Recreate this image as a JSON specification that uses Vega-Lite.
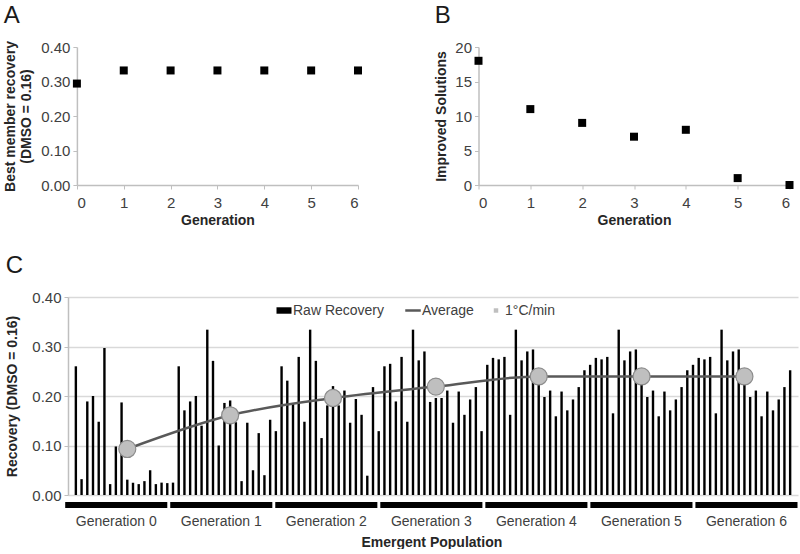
{
  "$schema": "https://vega.github.io/schema/vega-lite/v6.json",
  "background": "white",
  "padding": {"left": 3, "top": 4, "right": 1, "bottom": 0},
  "config": {
    "font": "Liberation Sans",
    "view": {"stroke": null},
    "axis": {
      "labelFont": "Liberation Sans",
      "labelFontSize": 15,
      "labelColor": "#404040",
      "titleFont": "Liberation Sans",
      "titleFontSize": 14,
      "titleFontWeight": "bold",
      "titleColor": "#262626",
      "domainColor": "#bfbfbf",
      "domainWidth": 1.5,
      "tickColor": "#bfbfbf",
      "tickSize": 4,
      "gridColor": "#d9d9d9",
      "gridWidth": 1.3
    },
    "title": {"fontSize": 24, "fontWeight": "normal", "anchor": "start", "frame": "bounds", "color": "#1a1a1a", "font": "Liberation Sans", "offset": 12}
  },
  "datasets": {
    "bestRecovery": [
      {"generation": 0, "recovery": 0.294},
      {"generation": 1, "recovery": 0.332},
      {"generation": 2, "recovery": 0.332},
      {"generation": 3, "recovery": 0.332},
      {"generation": 4, "recovery": 0.332},
      {"generation": 5, "recovery": 0.332},
      {"generation": 6, "recovery": 0.332}
    ],
    "improved": [
      {"generation": 0, "solutions": 18},
      {"generation": 1, "solutions": 11},
      {"generation": 2, "solutions": 9},
      {"generation": 3, "solutions": 7},
      {"generation": 4, "solutions": 8},
      {"generation": 5, "solutions": 1},
      {"generation": 6, "solutions": 0}
    ],
    "raw": [
      {"idx": 1, "recovery": 0.26}, {"idx": 2, "recovery": 0.032}, {"idx": 3, "recovery": 0.189}, {"idx": 4, "recovery": 0.2}, {"idx": 5, "recovery": 0.148}, {"idx": 6, "recovery": 0.297}, {"idx": 7, "recovery": 0.022}, {"idx": 8, "recovery": 0.098}, {"idx": 9, "recovery": 0.187}, {"idx": 10, "recovery": 0.031}, {"idx": 11, "recovery": 0.025}, {"idx": 12, "recovery": 0.022}, {"idx": 13, "recovery": 0.028}, {"idx": 14, "recovery": 0.05}, {"idx": 15, "recovery": 0.022}, {"idx": 16, "recovery": 0.025}, {"idx": 17, "recovery": 0.024}, {"idx": 18, "recovery": 0.025},
      {"idx": 19, "recovery": 0.26}, {"idx": 20, "recovery": 0.171}, {"idx": 21, "recovery": 0.189}, {"idx": 22, "recovery": 0.2}, {"idx": 23, "recovery": 0.14}, {"idx": 24, "recovery": 0.334}, {"idx": 25, "recovery": 0.271}, {"idx": 26, "recovery": 0.1}, {"idx": 27, "recovery": 0.186}, {"idx": 28, "recovery": 0.191}, {"idx": 29, "recovery": 0.147}, {"idx": 30, "recovery": 0.028}, {"idx": 31, "recovery": 0.146}, {"idx": 32, "recovery": 0.05}, {"idx": 33, "recovery": 0.125}, {"idx": 34, "recovery": 0.04}, {"idx": 35, "recovery": 0.152}, {"idx": 36, "recovery": 0.129},
      {"idx": 37, "recovery": 0.26}, {"idx": 38, "recovery": 0.231}, {"idx": 39, "recovery": 0.184}, {"idx": 40, "recovery": 0.279}, {"idx": 41, "recovery": 0.148}, {"idx": 42, "recovery": 0.334}, {"idx": 43, "recovery": 0.271}, {"idx": 44, "recovery": 0.115}, {"idx": 45, "recovery": 0.181}, {"idx": 46, "recovery": 0.22}, {"idx": 47, "recovery": 0.181}, {"idx": 48, "recovery": 0.211}, {"idx": 49, "recovery": 0.146}, {"idx": 50, "recovery": 0.194}, {"idx": 51, "recovery": 0.162}, {"idx": 52, "recovery": 0.039}, {"idx": 53, "recovery": 0.218}, {"idx": 54, "recovery": 0.129},
      {"idx": 55, "recovery": 0.26}, {"idx": 56, "recovery": 0.265}, {"idx": 57, "recovery": 0.189}, {"idx": 58, "recovery": 0.279}, {"idx": 59, "recovery": 0.148}, {"idx": 60, "recovery": 0.334}, {"idx": 61, "recovery": 0.272}, {"idx": 62, "recovery": 0.29}, {"idx": 63, "recovery": 0.188}, {"idx": 64, "recovery": 0.196}, {"idx": 65, "recovery": 0.196}, {"idx": 66, "recovery": 0.211}, {"idx": 67, "recovery": 0.146}, {"idx": 68, "recovery": 0.209}, {"idx": 69, "recovery": 0.162}, {"idx": 70, "recovery": 0.193}, {"idx": 71, "recovery": 0.218}, {"idx": 72, "recovery": 0.129},
      {"idx": 73, "recovery": 0.263}, {"idx": 74, "recovery": 0.277}, {"idx": 75, "recovery": 0.274}, {"idx": 76, "recovery": 0.279}, {"idx": 77, "recovery": 0.162}, {"idx": 78, "recovery": 0.334}, {"idx": 79, "recovery": 0.272}, {"idx": 80, "recovery": 0.29}, {"idx": 81, "recovery": 0.294}, {"idx": 82, "recovery": 0.245}, {"idx": 83, "recovery": 0.198}, {"idx": 84, "recovery": 0.211}, {"idx": 85, "recovery": 0.159}, {"idx": 86, "recovery": 0.209}, {"idx": 87, "recovery": 0.171}, {"idx": 88, "recovery": 0.193}, {"idx": 89, "recovery": 0.218}, {"idx": 90, "recovery": 0.252},
      {"idx": 91, "recovery": 0.263}, {"idx": 92, "recovery": 0.277}, {"idx": 93, "recovery": 0.274}, {"idx": 94, "recovery": 0.279}, {"idx": 95, "recovery": 0.165}, {"idx": 96, "recovery": 0.334}, {"idx": 97, "recovery": 0.272}, {"idx": 98, "recovery": 0.29}, {"idx": 99, "recovery": 0.294}, {"idx": 100, "recovery": 0.245}, {"idx": 101, "recovery": 0.198}, {"idx": 102, "recovery": 0.211}, {"idx": 103, "recovery": 0.159}, {"idx": 104, "recovery": 0.209}, {"idx": 105, "recovery": 0.171}, {"idx": 106, "recovery": 0.193}, {"idx": 107, "recovery": 0.218}, {"idx": 108, "recovery": 0.252},
      {"idx": 109, "recovery": 0.263}, {"idx": 110, "recovery": 0.277}, {"idx": 111, "recovery": 0.274}, {"idx": 112, "recovery": 0.279}, {"idx": 113, "recovery": 0.165}, {"idx": 114, "recovery": 0.334}, {"idx": 115, "recovery": 0.272}, {"idx": 116, "recovery": 0.29}, {"idx": 117, "recovery": 0.294}, {"idx": 118, "recovery": 0.245}, {"idx": 119, "recovery": 0.198}, {"idx": 120, "recovery": 0.211}, {"idx": 121, "recovery": 0.159}, {"idx": 122, "recovery": 0.209}, {"idx": 123, "recovery": 0.171}, {"idx": 124, "recovery": 0.193}, {"idx": 125, "recovery": 0.218}, {"idx": 126, "recovery": 0.252}
    ],
    "avg": [
      {"idx": 10, "average": 0.093},
      {"idx": 28, "average": 0.161},
      {"idx": 46, "average": 0.196},
      {"idx": 64, "average": 0.219},
      {"idx": 82, "average": 0.2395},
      {"idx": 100, "average": 0.2395},
      {"idx": 118, "average": 0.2395}
    ],
    "gens": [
      {"gen": "Generation 0"}, {"gen": "Generation 1"}, {"gen": "Generation 2"}, {"gen": "Generation 3"}, {"gen": "Generation 4"}, {"gen": "Generation 5"}, {"gen": "Generation 6"}
    ]
  },
  "vconcat": [
    {
      "hconcat": [
        {
          "title": {"text": "A"},
          "width": 290,
          "height": 138,
          "data": {"name": "bestRecovery"},
          "mark": {"type": "point", "shape": "square", "filled": true, "color": "#000000", "size": 64, "opacity": 1},
          "encoding": {
            "x": {"field": "generation", "type": "quantitative", "scale": {"domain": [0, 6], "nice": false, "range": [8.9, 290]}, "axis": {"values": [0, 1, 2, 3, 4, 5, 6], "format": "d", "grid": false, "title": "Generation", "labelPadding": 6, "titlePadding": 3}},
            "y": {"field": "recovery", "type": "quantitative", "scale": {"domain": [0, 0.4]}, "axis": {"offset": -8.9, "values": [0, 0.1, 0.2, 0.3, 0.4], "format": ".2f", "grid": false, "title": ["Best member recovery", "(DMSO = 0.16)"], "titleLineHeight": 16, "titlePadding": 7, "labelPadding": 3}}
          }
        },
        {
          "title": {"text": "B"},
          "width": 311,
          "height": 138,
          "data": {"name": "improved"},
          "mark": {"type": "point", "shape": "square", "filled": true, "color": "#000000", "size": 64, "opacity": 1},
          "encoding": {
            "x": {"field": "generation", "type": "quantitative", "scale": {"domain": [0, 6], "nice": false}, "axis": {"values": [0, 1, 2, 3, 4, 5, 6], "format": "d", "grid": false, "title": "Generation", "labelPadding": 6, "titlePadding": 3}},
            "y": {"field": "solutions", "type": "quantitative", "scale": {"domain": [0, 20]}, "axis": {"values": [0, 5, 10, 15, 20], "format": "d", "grid": false, "title": "Improved Solutions", "titlePadding": 6, "labelPadding": 3}}
          }
        }
      ],
      "spacing": 120.5,
      "bounds": "flush"
    },
    {
      "vconcat": [
        {
          "title": {"text": "C", "offset": 12},
          "width": 730,
          "height": 198,
          "layer": [
            {
              "data": {"name": "raw"},
              "mark": {"type": "bar", "orient": "vertical", "width": 2.4},
              "encoding": {
                "x": {"field": "idx", "type": "quantitative", "scale": {"domain": [0.5, 126.5], "nice": false, "zero": false}, "axis": null},
                "y": {"field": "recovery", "type": "quantitative", "scale": {"domain": [0, 0.4]}, "axis": {"values": [0, 0.05, 0.1, 0.15, 0.2, 0.25, 0.3, 0.35, 0.4], "format": ".2f", "grid": true, "title": "Recovery (DMSO = 0.16)", "titlePadding": 12, "labelPadding": 3}},
                "color": {
                  "datum": "Raw Recovery",
                  "type": "nominal",
                  "scale": {"domain": ["Raw Recovery", "Average", "1°C/min"], "range": ["#000000", "#595959", "#bfbfbf"]},
                  "legend": {
                    "orient": "none",
                    "legendX": 209,
                    "legendY": 256.5,
                    "direction": "horizontal",
                    "title": null,
                    "labelFont": "Liberation Sans",
                    "labelFontSize": 14,
                    "labelColor": "#404040",
                    "symbolSize": 225,
                    "labelOffset": 2,
                    "columnPadding": 15,
                    "encode": {
                      "symbols": {
                        "update": {
                          "shape": {"signal": "datum.value === 'Raw Recovery' ? 'M-1,-0.43H1V0.43H-1Z' : (datum.value === 'Average' ? 'stroke' : 'square')"},
                          "size": {"signal": "datum.value === 'Raw Recovery' ? 225 : (datum.value === 'Average' ? 240 : 20)"},
                          "fill": {"signal": "datum.value === 'Raw Recovery' ? '#000000' : (datum.value === 'Average' ? '#595959' : '#bfbfbf')"},
                          "stroke": {"signal": "datum.value === 'Raw Recovery' ? '#000000' : (datum.value === 'Average' ? '#595959' : '#bfbfbf')"},
                          "strokeWidth": {"signal": "datum.value === 'Average' ? 2.5 : 0"},
                          "opacity": {"value": 1}
                        }
                      }
                    }
                  }
                }
              }
            },
            {
              "data": {"name": "avg"},
              "mark": {"type": "line", "interpolate": "monotone", "strokeWidth": 2.5},
              "encoding": {
                "x": {"field": "idx", "type": "quantitative"},
                "y": {"field": "average", "type": "quantitative"},
                "color": {"datum": "Average", "type": "nominal"}
              }
            },
            {
              "data": {"name": "avg"},
              "mark": {"type": "point", "shape": "circle", "filled": true, "size": 290, "fill": "#bfbfbf", "stroke": "#8c8c8c", "strokeWidth": 1.2, "opacity": 1},
              "encoding": {
                "x": {"field": "idx", "type": "quantitative"},
                "y": {"field": "average", "type": "quantitative"}
              }
            }
          ]
        },
        {
          "width": 730,
          "height": 6,
          "data": {"name": "gens"},
          "mark": {"type": "rect", "color": "#000000"},
          "encoding": {
            "x": {"field": "gen", "type": "nominal", "sort": null, "scale": {"paddingInner": 0.028, "paddingOuter": 0, "range": [-2.8, 729.5]}, "axis": {"title": "Emergent Population", "labelAngle": 0, "domain": false, "ticks": false, "labelPadding": 6, "labelFontSize": 14, "titlePadding": 7}}
          }
        }
      ],
      "spacing": 7,
      "bounds": "flush"
    }
  ],
  "spacing": 27
}
